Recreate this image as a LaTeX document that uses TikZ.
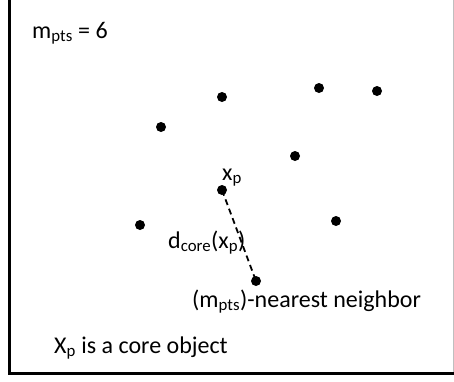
\documentclass[tikz,border=0pt]{standalone}
\usepackage{fontspec}
\setmainfont{Carlito}
\begin{document}
\begin{tikzpicture}[x=1pt,y=-1pt,font=\fontsize{24}{26}\selectfont, line cap=butt,
    pt/.style={circle,fill=black,inner sep=0pt,minimum size=10pt},
    lbl/.style={anchor=base west,inner sep=0pt}]
        \useasboundingbox (0,0) rectangle (454,381);
        \draw[line width=3.5pt] (9.5,0)--(9.5,373.5)--(454,373.5);
        \draw[black!25,line width=0.8pt] (453.2,0)--(453.2,372);
        % points
        \node[pt] (a) at (222,97) {};
        \node[pt] (b) at (319,88) {};
        \node[pt] (c) at (377,91) {};
        \node[pt] (d) at (161,127) {};
        \node[pt] (e) at (295,156) {};
        \node[pt] (xp) at (222,190) {};
        \node[pt] (f) at (140,225) {};
        \node[pt] (g) at (336,221) {};
        \node[pt] (nn) at (256,281) {};
        \draw[line width=1.8pt,dash pattern=on 6pt off 4pt] (xp.center)--(nn.center);
        % labels
        \node[lbl] (mpts) at (32,38) {m\textsubscript{pts} = 6};
        \node[lbl] (xlab) at (222,180) {x\textsubscript{p}};
        \node[lbl] (dlab) at (168,248) {d\textsubscript{core}(x\textsubscript{p})};
        \node[lbl] (nnlab) at (192,307) {(m\textsubscript{pts})-nearest neighbor};
        \node[lbl] (core) at (54,353) {X\textsubscript{p} is a core object};
\end{tikzpicture}
\end{document}
